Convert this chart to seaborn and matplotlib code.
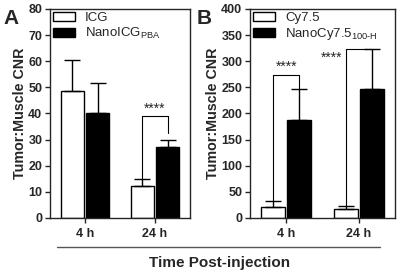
import matplotlib
matplotlib.use("Agg")
import matplotlib.pyplot as plt
import matplotlib.patches as mpatches
import seaborn as sns
import pandas as pd

# data
times = ["4 h", "24 h"]
groups_a = ["ICG", "NanoICG$_{\\mathregular{PBA}}$"]
mean_a = [[48.5, 40.0], [12.2, 27.0]]   # [time][group]
sd_a = [[11.8, 11.8], [2.8, 3.0]]
groups_b = ["Cy7.5", "NanoCy7.5$_{\\mathregular{100\\text{-}H}}$"]
mean_b = [[21.0, 188.0], [17.0, 246.0]]
sd_b = [[12.0, 58.0], [5.0, 77.0]]

sns.set_style("ticks")
plt.rcParams["font.family"] = ["Liberation Sans", "DejaVu Sans"]
plt.rcParams["mathtext.fontset"] = "custom"
plt.rcParams["mathtext.rm"] = "Liberation Sans"


def to_frame(groups, means, sds):
    rows = []
    for i, t in enumerate(times):
        for j, g in enumerate(groups):
            rows.append({"time": t, "group": g, "mean": means[i][j], "sd": sds[i][j]})
    return pd.DataFrame(rows)


def draw_panel(ax, groups, means, sds, ymax, ystep, letter, letter_x):
    df = to_frame(groups, means, sds)
    sns.barplot(data=df, x="time", y="mean", hue="group", hue_order=groups,
                palette=["white", "black"], edgecolor="black", linewidth=1.0,
                width=0.72, gap=0.08, errorbar=None, legend=False, ax=ax)
    # bar centers, per group, per time
    centers = {}
    bar_conts = list(ax.containers)
    for j, cont in enumerate(bar_conts):
        for i, p in enumerate(cont.patches):
            x = p.get_x() + p.get_width() / 2
            centers[(i, j)] = x
            ax.errorbar(x, means[i][j], yerr=[[0], [sds[i][j]]], fmt="none",
                        ecolor="black", elinewidth=1.0, capsize=5.5, capthick=1.0)
    ax.set_ylim(0, ymax)
    ax.set_xlim(-0.5, 1.5)
    ax.set_yticks(range(0, ymax + 1, ystep))
    ax.set_xlabel("")
    ax.set_ylabel("Tumor:Muscle CNR", fontsize=10.3, fontweight="bold", labelpad=1)
    for lab in ax.get_xticklabels() + ax.get_yticklabels():
        lab.set_fontweight("bold")
    ax.tick_params(labelsize=9, width=1.0, length=3.5, pad=2)
    ax.tick_params(axis="x", pad=4)
    for s in ax.spines.values():
        s.set_linewidth(1.0)
    handles = [mpatches.Patch(facecolor="white", edgecolor="black", label=groups[0]),
               mpatches.Patch(facecolor="black", edgecolor="black", label=groups[1])]
    ax.legend(handles=handles, loc="upper left", frameon=False, fontsize=9.5,
              handlelength=1.7, handleheight=0.75, borderaxespad=0.2,
              labelspacing=0.15, handletextpad=0.75, borderpad=0.0)
    ax.text(letter_x, 1.0, letter, transform=ax.transAxes, fontsize=15,
            fontweight="bold", va="top", ha="left")
    return centers


def bracket(ax, x1, y1, x2, y2, ytop):
    ax.plot([x1, x1, x2, x2], [y1, ytop, ytop, y2], color="black", lw=0.8)


fig = plt.figure(figsize=(3.98, 2.74), dpi=100)
ax_a = fig.add_axes([0.1256, 0.2044, 0.352, 0.763])
ax_b = fig.add_axes([0.628, 0.2044, 0.364, 0.763])

ca = draw_panel(ax_a, groups_a, mean_a, sd_a, 80, 10, "A", -0.33)
bracket(ax_a, ca[(1, 0)], mean_a[1][0] + sd_a[1][0], ca[(1, 1)], 32.5, 39)
ax_a.text((ca[(1, 0)] + ca[(1, 1)]) / 2, 39.3, "****", ha="center", va="bottom", fontsize=10)

cb = draw_panel(ax_b, groups_b, mean_b, sd_b, 400, 50, "B", -0.37)
bracket(ax_b, cb[(0, 0)], mean_b[0][0] + sd_b[0][0], cb[(0, 1)], mean_b[0][1] + sd_b[0][1], 273)
ax_b.text((cb[(0, 0)] + cb[(0, 1)]) / 2, 275, "****", ha="center", va="bottom", fontsize=10)
bracket(ax_b, cb[(1, 0)], mean_b[1][0] + sd_b[1][0], cb[(1, 1)], mean_b[1][1] + sd_b[1][1], 324)
ax_b.text(cb[(1, 0)] - 0.04, 306, "****", ha="right", va="center", fontsize=10)

# shared x label with line
fig.add_artist(plt.Line2D([57 / 398, 380 / 398], [1 - 247 / 274, 1 - 247 / 274],
                          color="#555555", lw=1.0))
fig.text(220 / 398, 1 - 263 / 274, "Time Post-injection", ha="center", va="center",
         fontsize=11, fontweight="bold")

fig.savefig("out.png", dpi=100)
